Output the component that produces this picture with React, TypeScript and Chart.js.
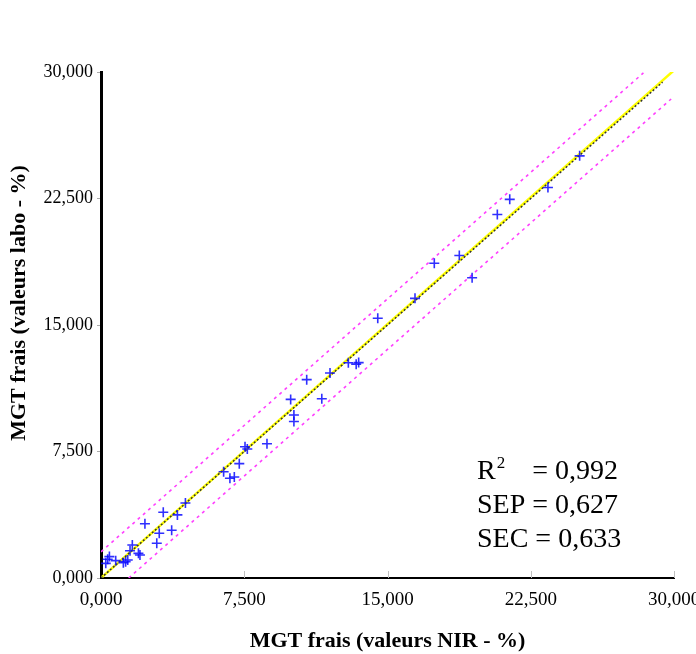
import React, { useEffect, useRef } from "react";
import { Chart, registerables } from "chart.js";

Chart.register(...registerables);

// NIR predicted values (x) vs lab values (y), in %
const nirValues = [
  0.25, 0.35, 0.44, 0.77, 1.17, 1.29, 1.40, 1.52, 1.64, 1.96, 2.04,
  2.30, 2.92, 3.05, 3.26, 3.70, 4.00, 4.42,
  6.42, 6.75, 6.98, 7.24, 7.54, 7.66, 8.69,
  9.93, 10.10, 10.10, 10.77, 11.56, 11.99, 12.95, 13.36, 13.49, 14.49,
  16.44, 17.45, 18.76, 19.43, 20.75, 21.40, 23.40, 25.06,
];
const labValues = [
  0.87, 1.11, 1.27, 1.03, 0.91, 0.97, 1.07, 1.62, 1.96, 1.46, 1.36,
  3.22, 2.06, 2.65, 3.90, 2.83, 3.74, 4.45,
  6.30, 5.91, 5.99, 6.78, 7.78, 7.65, 7.96,
  10.59, 9.66, 9.28, 11.76, 10.63, 12.15, 12.76, 12.68, 12.77, 15.40,
  16.58, 18.66, 19.12, 17.80, 21.55, 22.45, 23.15, 25.03,
];
const tickValues = [0, 7.5, 15, 22.5, 30];
const fitLine = [[0, 0], [30, 30.1]];
const bisector = [[0, 0], [29.4, 29.4]];
const upperLimit = [[0, 1.55], [28.4, 29.95]];
const lowerLimit = [[1.45, 0], [29.85, 28.4]];
const statLabels = ["R", "SEP", "SEC"];
const statValues = ["0,992", "0,627", "0,633"];
const xTitle = "MGT frais (valeurs NIR - %)";
const yTitle = "MGT frais (valeurs labo - %)";

const fmt = (v: number) => v.toFixed(3).replace(".", ",");
const toPts = (arr: number[][]) => arr.map(([x, y]) => ({ x, y }));

const overlay = {
  id: "overlay",
  afterDraw(chart: any) {
    const ctx = chart.ctx;
    const area = chart.chartArea;
    const xs = chart.scales.x;
    ctx.save();
    // small upward ticks on x axis
    ctx.strokeStyle = "#c0c0c0";
    ctx.lineWidth = 1;
    tickValues.slice(1).forEach((v) => {
      const px = Math.round(xs.getPixelForValue(v)) + 0.5;
      ctx.beginPath();
      ctx.moveTo(px, area.bottom);
      ctx.lineTo(px, area.bottom - 7);
      ctx.stroke();
    });
    // titles
    ctx.fillStyle = "#000";
    ctx.font = "bold 22px 'Liberation Serif'";
    ctx.textAlign = "center";
    ctx.textBaseline = "middle";
    ctx.fillText(xTitle, (area.left + area.right) / 2, 641);
    ctx.save();
    ctx.translate(19, 303);
    ctx.rotate(-Math.PI / 2);
    ctx.fillText(yTitle, 0, 0);
    ctx.restore();
    // stats
    ctx.textAlign = "left";
    ctx.textBaseline = "alphabetic";
    const big = "28px 'Liberation Serif'";
    ctx.font = big;
    const x0 = 477;
    const eqX = x0 + ctx.measureText("SEP ").width;
    const baselines = [479, 513, 547];
    statLabels.forEach((lab, i) => {
      ctx.font = big;
      if (i === 0) {
        ctx.fillText(lab, x0, baselines[i]);
        const w = ctx.measureText(lab).width;
        ctx.font = "17px 'Liberation Serif'";
        ctx.fillText("2", x0 + w + 1, baselines[i] - 11);
        ctx.font = big;
        ctx.fillText("= " + statValues[i], eqX, baselines[i]);
      } else {
        ctx.fillText(lab + " = " + statValues[i], x0, baselines[i]);
      }
    });
    ctx.restore();
  },
};

export default function App() {
  const ref = useRef<HTMLCanvasElement | null>(null);
  useEffect(() => {
    if (!ref.current) return;
    const points = nirValues.map((x, i) => ({ x, y: labValues[i] }));
    const lineDs = (data: any, color: string, width: number, dash: number[]) => ({
      type: "line" as const,
      data,
      borderColor: color,
      borderWidth: width,
      borderDash: dash,
      pointRadius: 0,
      fill: false,
      showLine: true,
    });
    const chart = new Chart(ref.current, {
      type: "scatter",
      data: {
        datasets: [
          {
            data: points,
            pointStyle: "cross",
            pointRadius: 5,
            borderWidth: 1.6,
            borderColor: "rgba(10,10,255,0.85)",
            backgroundColor: "rgba(10,10,255,0.85)",
          } as any,
          lineDs(toPts(upperLimit), "#ff40ff", 1.6, [3, 4]),
          lineDs(toPts(lowerLimit), "#ff40ff", 1.6, [3, 4]),
          lineDs(toPts(bisector), "#333333", 1.5, [2, 2]),
          lineDs(toPts(fitLine), "#ffff00", 2.5, []),
        ],
      },
      options: {
        animation: false,
        responsive: true,
        maintainAspectRatio: false,
        layout: { padding: { left: 0, top: 72, right: 22, bottom: 0 } },
        plugins: { legend: { display: false }, tooltip: { enabled: false } },
        scales: {
          x: {
            type: "linear",
            min: 0,
            max: 30,
            afterBuildTicks: (s: any) => {
              s.ticks = tickValues.map((v) => ({ value: v }));
            },
            afterFit: (s: any) => {
              s.height = 76;
              s.paddingLeft = 0;
              s.paddingRight = 0;
            },
            ticks: {
              callback: (v: any) => fmt(Number(v)),
              font: { family: "'Liberation Serif'", size: 19 },
              color: "#000",
              padding: 11,
              maxRotation: 0,
            },
            grid: { display: true, drawOnChartArea: false, drawTicks: false },
            border: { display: true, color: "#000", width: 2 },
          },
          y: {
            type: "linear",
            min: 0,
            max: 30,
            afterBuildTicks: (s: any) => {
              s.ticks = tickValues.map((v) => ({ value: v }));
            },
            afterFit: (s: any) => {
              s.width = 101;
              s.paddingTop = 0;
              s.paddingBottom = 0;
            },
            ticks: {
              callback: (v: any) => fmt(Number(v)),
              font: { family: "'Liberation Serif'", size: 18 },
              color: "#000",
              padding: 4,
            },
            grid: { display: true, drawOnChartArea: false, drawTicks: true, tickLength: 4, color: "#aaa" },
            border: { display: true, color: "#000", width: 3 },
          },
        },
      } as any,
      plugins: [overlay],
    });
    return () => chart.destroy();
  }, []);
  return (
    <div style={{ position: "absolute", left: 0, top: 0, width: 696, height: 654, background: "#fff" }}>
      <canvas ref={ref} />
    </div>
  );
}
